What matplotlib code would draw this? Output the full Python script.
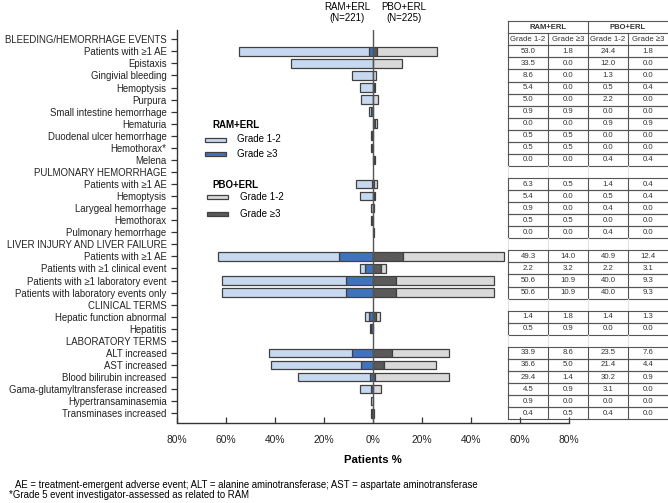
import numpy as np
import matplotlib.pyplot as plt
from matplotlib.patches import Rectangle
from matplotlib.transforms import blended_transform_factory

plt.rcParams['font.family'] = ['Liberation Sans', 'DejaVu Sans']

# rows, top to bottom; section headers carry no values
labels = ['BLEEDING/HEMORRHAGE EVENTS', 'Patients with ≥1 AE', 'Epistaxis', 'Gingivial bleeding',
          'Hemoptysis', 'Purpura', 'Small intestine hemorrhage', 'Hematuria',
          'Duodenal ulcer hemorrhage', 'Hemothorax*', 'Melena',
          'PULMONARY HEMORRHAGE', 'Patients with ≥1 AE', 'Hemoptysis', 'Larygeal hemorrhage',
          'Hemothorax', 'Pulmonary hemorrhage',
          'LIVER INJURY AND LIVER FAILURE', 'Patients with ≥1 AE', 'Patients with ≥1 clinical event',
          'Patients with ≥1 laboratory event', 'Patients with laboratory events only',
          'CLINICAL TERMS', 'Hepatic function abnormal', 'Hepatitis',
          'LABORATORY TERMS', 'ALT increased', 'AST increased', 'Blood bilirubin increased',
          'Gama-glutamyltransferase increased', 'Hypertransaminasemia', 'Transminases increased']
headers = ['BLEEDING/HEMORRHAGE EVENTS', 'PULMONARY HEMORRHAGE', 'LIVER INJURY AND LIVER FAILURE',
           'CLINICAL TERMS', 'LABORATORY TERMS']
nan = np.nan
ram_g12 = [nan, 53.0, 33.5, 8.6, 5.4, 5.0, 0.9, 0.0, 0.5, 0.5, 0.0,
           nan, 6.3, 5.4, 0.9, 0.5, 0.0,
           nan, 49.3, 2.2, 50.6, 50.6,
           nan, 1.4, 0.5,
           nan, 33.9, 36.6, 29.4, 4.5, 0.9, 0.4]
ram_g3 = [nan, 1.8, 0.0, 0.0, 0.0, 0.0, 0.9, 0.0, 0.5, 0.5, 0.0,
          nan, 0.5, 0.0, 0.0, 0.5, 0.0,
          nan, 14.0, 3.2, 10.9, 10.9,
          nan, 1.8, 0.9,
          nan, 8.6, 5.0, 1.4, 0.9, 0.0, 0.5]
pbo_g12 = [nan, 24.4, 12.0, 1.3, 0.5, 2.2, 0.0, 0.9, 0.0, 0.0, 0.4,
           nan, 1.4, 0.5, 0.4, 0.0, 0.4,
           nan, 40.9, 2.2, 40.0, 40.0,
           nan, 1.4, 0.0,
           nan, 23.5, 21.4, 30.2, 3.1, 0.0, 0.4]
pbo_g3 = [nan, 1.8, 0.0, 0.0, 0.4, 0.0, 0.0, 0.9, 0.0, 0.0, 0.4,
          nan, 0.4, 0.4, 0.0, 0.0, 0.0,
          nan, 12.4, 3.1, 9.3, 9.3,
          nan, 1.3, 0.0,
          nan, 7.6, 4.4, 0.9, 0.0, 0.0, 0.0]
xticks = [-80, -60, -40, -20, 0, 20, 40, 60, 80]

c_ram12, c_ram3 = '#c6d9f1', '#3f74bd'
c_pbo12, c_pbo3 = '#d9d9d9', '#5a5a5a'
edge = '#404040'

W, H = 668, 503
fig = plt.figure(figsize=(W / 100, H / 100), dpi=100)
fx = lambda x: x / W
fy = lambda y: 1 - y / H

ax = fig.add_axes([fx(177), 80.5 / H, 392 / W, 392.5 / H])
n = len(labels)
y = np.arange(n)
ax.set_xlim(-80, 80)
ax.set_ylim(n - 1 + 0.77, -0.77)
ax.set_autoscale_on(False)

r12 = np.array(ram_g12)
r3 = np.array(ram_g3)
p12 = np.array(pbo_g12)
p3 = np.array(pbo_g3)
h = 0.72
kw = dict(height=h, edgecolor=edge, linewidth=0.9, zorder=2)
m = np.nan_to_num(r3) > 0
ax.barh(y[m], -r3[m], left=0, color=c_ram3, **kw)
m = np.nan_to_num(r12) > 0
ax.barh(y[m], -r12[m], left=-np.nan_to_num(r3[m]), color=c_ram12, **kw)
m = np.nan_to_num(p3) > 0
ax.barh(y[m], p3[m], left=0, color=c_pbo3, **kw)
m = np.nan_to_num(p12) > 0
ax.barh(y[m], p12[m], left=np.nan_to_num(p3[m]), color=c_pbo12, **kw)
ax.axvline(0, color='#555555', lw=1, zorder=3)

ax.spines['top'].set_visible(False)
ax.spines['right'].set_visible(False)
for s in ['left', 'bottom']:
    ax.spines[s].set_color('#333333')
    ax.spines[s].set_linewidth(1)
ax.set_yticks(y)
ax.set_yticklabels(labels, fontsize=6.9, color='#222222')
ax.tick_params(axis='y', direction='out', length=4, width=0.9, color='#333333', pad=3.5)
ax.set_xticks(xticks)
ax.set_xticklabels(['{}%'.format(abs(v)) for v in xticks], fontsize=7.4, color='#222222')
ax.tick_params(axis='x', direction='in', length=4, width=0.9, color='#333333', pad=9)
ax.set_xlabel('Patients %', fontsize=8.2, fontweight='bold', labelpad=7)

# column titles
fig.text(fx(347), fy(2), 'RAM+ERL\n(N=221)', ha='center', va='top', fontsize=7, linespacing=1.15)
fig.text(fx(404), fy(2), 'PBO+ERL\n(N=225)', ha='center', va='top', fontsize=7, linespacing=1.15)

# legend drawn by hand
fig.text(fx(212), fy(125.5), 'RAM+ERL', fontsize=7, fontweight='bold', va='center')
fig.text(fx(212), fy(185), 'PBO+ERL', fontsize=7, fontweight='bold', va='center')
leg = [(205, 139.5, c_ram12, 'Grade 1-2', 237), (205, 154.3, c_ram3, 'Grade ≥3', 237),
       (207, 197, c_pbo12, 'Grade 1-2', 240), (207, 214, c_pbo3, 'Grade ≥3', 240)]
for x0, yc, col, txt, tx in leg:
    fig.add_artist(Rectangle((fx(x0), fy(yc + 2)), 21 / W, 4 / H, transform=fig.transFigure,
                             facecolor=col, edgecolor=edge, linewidth=0.9))
    fig.text(fx(tx), fy(yc), txt, fontsize=7, va='center')

# table on the right, rows aligned with the bars
tr = blended_transform_factory(fig.transFigure, ax.transData)
cols = [508, 548, 588, 628, 670]
centers = [528, 568, 608, 648]
lc = '#555555'
lkw = dict(transform=tr, clip_on=False, zorder=5)


def hline(x0, x1, yy, color=lc):
    ax.plot([fx(x0), fx(x1)], [yy, yy], color=color, lw=0.8, **lkw)


def vline(x, y0, y1, color=lc):
    ax.plot([fx(x), fx(x)], [y0, y1], color=color, lw=0.8, **lkw)


# top header row
hline(cols[0], cols[-1], -1.5)
for x in [cols[0], cols[2]]:
    vline(x, -1.5, -0.5)
ax.text(fx(548), -1, 'RAM+ERL', transform=tr, ha='center', va='center', fontsize=5.5,
        fontweight='bold', color='#333333', clip_on=False)
ax.text(fx(628), -1, 'PBO+ERL', transform=tr, ha='center', va='center', fontsize=5.5,
        fontweight='bold', color='#333333', clip_on=False)
sub = ['Grade 1-2', 'Grade ≥3', 'Grade 1-2', 'Grade ≥3']
for i in range(n):
    if labels[i] in headers and i > 0:
        for x in cols[:-1]:
            vline(x, i - 0.5, i + 0.5, color='#e2e2e2')
        continue
    hline(cols[0], cols[-1], i - 0.5)
    hline(cols[0], cols[-1], i + 0.5)
    for x in cols[:-1]:
        vline(x, i - 0.5, i + 0.5)
    if i == 0:
        texts = sub
    else:
        texts = ['{:.1f}'.format(v) for v in (ram_g12[i], ram_g3[i], pbo_g12[i], pbo_g3[i])]
    for j, t in enumerate(texts):
        ax.text(fx(centers[j]), i, t, transform=tr, ha='center', va='center',
                fontsize=5.6, color='#333333', clip_on=False)

# footnotes
fig.text(fx(15), fy(485.5), 'AE = treatment-emergent adverse event; ALT = alanine aminotransferase; '
         'AST = aspartate aminotransferase', fontsize=6.9, va='center')
fig.text(fx(9), fy(495.5), '*Grade 5 event investigator-assessed as related to RAM', fontsize=6.9,
         va='center')

fig.savefig('out.png', dpi=100)
